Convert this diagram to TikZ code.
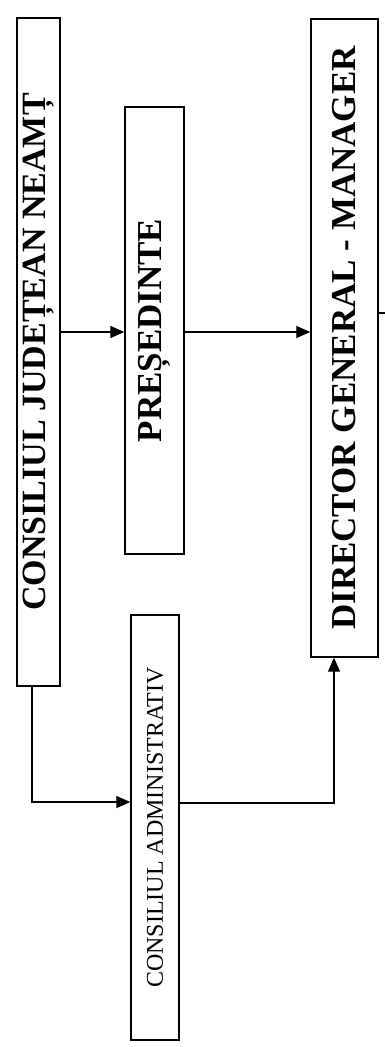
\documentclass[tikz,border=0pt]{standalone}
\usepackage{fontspec}
\usepackage{graphicx}
\setmainfont{Liberation Serif}
\usetikzlibrary{arrows.meta}
\tikzset{
  box/.style={draw=black, line width=1.4pt, inner sep=0pt, fill=white},
  arr/.style={line width=1.3pt, -{Triangle[length=14pt,width=12pt]}},
  conn/.style={line width=1.3pt}
}
\begin{document}
\begin{tikzpicture}[x=1pt,y=-1pt]
\useasboundingbox (0,0) rectangle (385,1047);
\fill[white] (0,0) rectangle (385,1047);
\node[box, minimum width=43pt, minimum height=668pt] (cjn) at (38.5,352)
  {\rotatebox{90}{\fontsize{34}{40}\selectfont\bfseries CONSILIUL JUDEȚEAN NEAMȚ}};
\node[box, minimum width=59pt, minimum height=447pt] (pres) at (154.5,330.5)
  {\rotatebox{90}{\fontsize{35}{40}\selectfont\bfseries PREȘEDINTE}};
\node[box, minimum width=48pt, minimum height=425pt] (ca) at (155,827.5)
  {\rotatebox{90}{\fontsize{24}{28}\selectfont CONSILIUL ADMINISTRATIV}};
\node[box, minimum width=67pt, minimum height=638pt] (dir) at (344.5,338)
  {\rotatebox{90}{\fontsize{35}{40}\selectfont\bfseries DIRECTOR GENERAL - MANAGER}};
\coordinate (r1) at (0,332);
\coordinate (j1) at (32,802);
\coordinate (j2) at (334,803);
\coordinate (stub) at (385,313);
\draw[arr] (cjn.east |- r1) -- (pres.west |- r1);
\draw[arr] (pres.east |- r1) -- (dir.west |- r1);
\draw[arr] (cjn.south -| j1) -- (j1) -- (ca.west |- j1);
\draw[arr] (ca.east |- j2) -- (j2) -- (dir.south -| j2);
\draw[conn] (dir.east |- stub) -- (stub);
\end{tikzpicture}
\end{document}
